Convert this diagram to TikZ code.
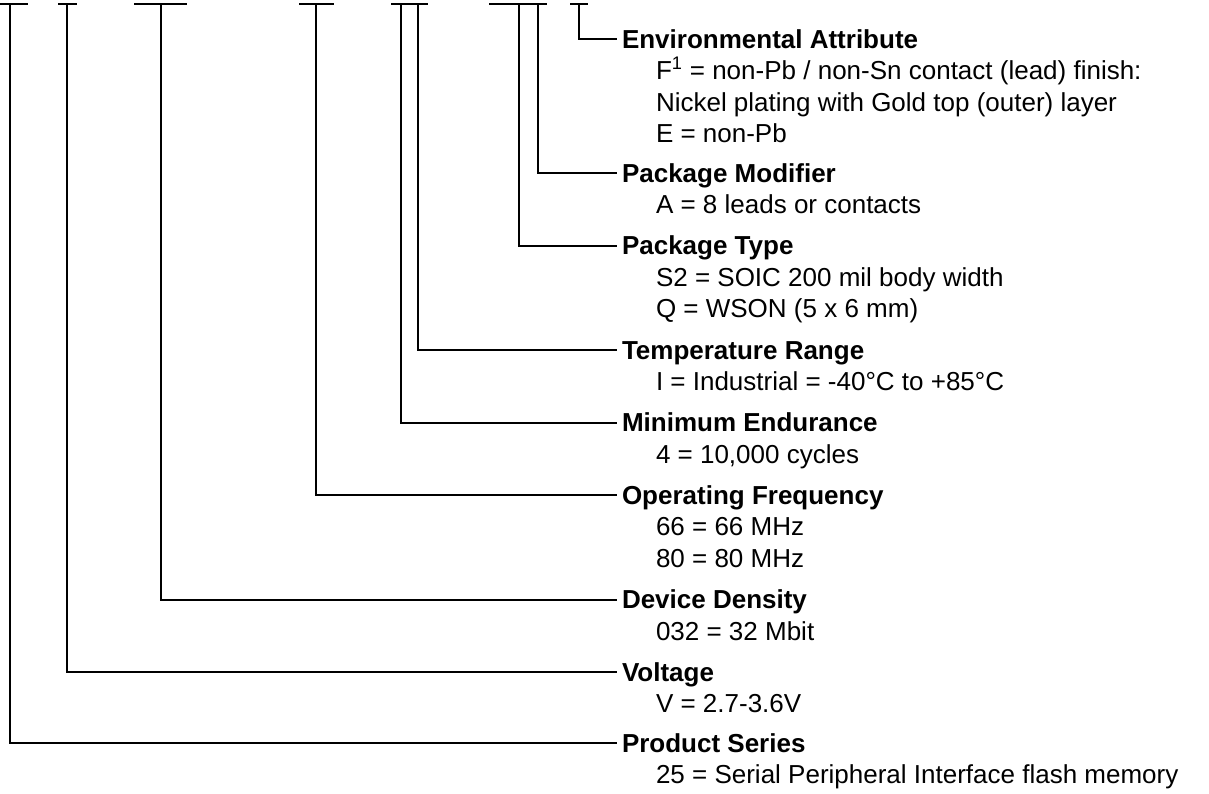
\documentclass[tikz,border=0pt]{standalone}
\usepackage{fontspec}
\setmainfont{Liberation Sans}
\begin{document}
\begin{tikzpicture}[x=0.75pt,y=-0.75pt,line width=1.5pt,
  lbl/.style={anchor=base west,inner sep=0pt,font=\fontsize{19.5pt}{22pt}\selectfont\bfseries},
  sub/.style={anchor=base west,inner sep=0pt,font=\fontsize{19.5pt}{22pt}\selectfont},
  conn/.style={draw=black,line width=1.5pt}]
\useasboundingbox (0,0) rectangle (1209,793);
% underline bars
\foreach \a/\b in {0/28,58/77,134/187,299/334,391/428,489/547,570/588}
  \draw (\a,3.5) -- (\b,3.5);
% bar tap points
\coordinate (tP) at (10,3.5);
\coordinate (tV) at (67,3.5);
\coordinate (tD) at (161,3.5);
\coordinate (tF) at (316,3.5);
\coordinate (tE) at (401,3.5);
\coordinate (tT) at (418,3.5);
\coordinate (tY) at (519,3.5);
\coordinate (tM) at (538,3.5);
\coordinate (tA) at (579,3.5);
% line ends
\def\lx{617}
\coordinate (eA) at (\lx,39);
\coordinate (eM) at (\lx,173);
\coordinate (eY) at (\lx,245.5);
\coordinate (eT) at (\lx,350);
\coordinate (eE) at (\lx,422.5);
\coordinate (eF) at (\lx,495);
\coordinate (eD) at (\lx,599.5);
\coordinate (eV) at (\lx,672);
\coordinate (eP) at (\lx,743);
% labels
\def\tx{621}
\def\sx{655}
\node[lbl] (lA) at (\tx,48) {Environmental Attribute};
\node[sub] (sA1) at (\sx,79.5) {F\textsuperscript{1} = non-Pb / non-Sn contact (lead) finish:};
\node[sub] (sA2) at (\sx,111) {Nickel plating with Gold top (outer) layer};
\node[sub] (sA3) at (\sx,142.5) {E = non-Pb};
\node[lbl] (lM) at (\tx,182) {Package Modifier};
\node[sub] (sM1) at (\sx,213.5) {A = 8 leads or contacts};
\node[lbl] (lY) at (\tx,254.5) {Package Type};
\node[sub] (sY1) at (\sx,286) {S2 = SOIC 200 mil body width};
\node[sub] (sY2) at (\sx,317.5) {Q = WSON (5 x 6 mm)};
\node[lbl] (lT) at (\tx,359) {Temperature Range};
\node[sub] (sT1) at (\sx,390.5) {I = Industrial = -40°C to +85°C};
\node[lbl] (lE) at (\tx,431.5) {Minimum Endurance};
\node[sub] (sE1) at (\sx,463) {4 = 10,000 cycles};
\node[lbl] (lF) at (\tx,504) {Operating Frequency};
\node[sub] (sF1) at (\sx,535.5) {66 = 66 MHz};
\node[sub] (sF2) at (\sx,567) {80 = 80 MHz};
\node[lbl] (lD) at (\tx,608.5) {Device Density};
\node[sub] (sD1) at (\sx,640) {032 = 32 Mbit};
\node[lbl] (lV) at (\tx,681) {Voltage};
\node[sub] (sV1) at (\sx,712.5) {V = 2.7-3.6V};
\node[lbl] (lP) at (\tx,752) {Product Series};
\node[sub] (sP1) at (\sx,783.5) {25 = Serial Peripheral Interface flash memory};
% connectors
\draw[conn] (tA) |- (eA);
\draw[conn] (tM) |- (eM);
\draw[conn] (tY) |- (eY);
\draw[conn] (tT) |- (eT);
\draw[conn] (tE) |- (eE);
\draw[conn] (tF) |- (eF);
\draw[conn] (tD) |- (eD);
\draw[conn] (tV) |- (eV);
\draw[conn] (tP) |- (eP);
\end{tikzpicture}
\end{document}
